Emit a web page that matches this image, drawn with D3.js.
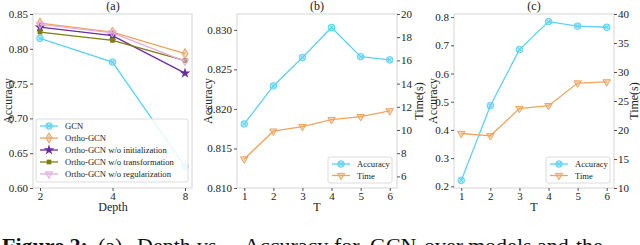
<!DOCTYPE html>
<html>
<head>
<meta charset="utf-8">
<script src="https://cdn.jsdelivr.net/npm/d3@7"></script>
<style>
  body { margin: 0; background: #fff; }
  svg { display: block; font-family: "Liberation Serif", "DejaVu Serif", serif; }
</style>
</head>
<body>
<div id="chart-area"></div>
<script>
// ---- data ----
var depths = ["2", "4", "8"]
var seriesA = ["GCN", "Ortho-GCN", "Ortho-GCN w/o initialization", "Ortho-GCN w/o transformation", "Ortho-GCN w/o regularization"]
var gcnAcc = [0.815, 0.781, 0.631]
var orthoAcc = [0.837, 0.824, 0.793]
var noInitAcc = [0.831, 0.819, 0.765]
var noTransAcc = [0.824, 0.812, 0.783]
var noRegAcc = [0.835, 0.823, 0.782]
var yTicksA = [0.60, 0.65, 0.70, 0.75, 0.80, 0.85]

var tValues = [1, 2, 3, 4, 5, 6]
var accB = [0.8181, 0.8229, 0.8265, 0.8303, 0.8266, 0.8262]
var timeB = [7.5, 9.9, 10.3, 10.9, 11.15, 11.65]
var yTicksB = [0.810, 0.815, 0.820, 0.825, 0.830]
var y2TicksB = [6, 8, 10, 12, 14, 16, 18, 20]

var accC = [0.221, 0.486, 0.685, 0.784, 0.768, 0.764]
var timeC = [19.4, 19.0, 23.7, 24.2, 28.1, 28.3]
var yTicksC = [0.2, 0.3, 0.4, 0.5, 0.6, 0.7, 0.8]
var y2TicksC = [10, 15, 20, 25, 30, 35, 40]

// caption words (only their top shows) and where each word starts
var captionWords = ["Figure 2:", "(a)", "Depth", "vs.", "Accuracy", "for", "GCN", "over", "models", "and", "the"]
var captionX = [2, 98, 137, 197, 244, 334, 370, 424, 468, 537, 576]

var colors = ["#5ad2f6", "#f0a35e", "#6a2c9e", "#7d7d12", "#e4acdc"]
var blue = "#5ad2f6", orange = "#f0a35e"
var spine = "#dcdcdc"
var txt = "#222"

var width = 640, height = 245
var plotTop = 14, plotBottom = 188

var svg = d3.select("#chart-area").append("svg")
    .attr("width", width)
    .attr("height", height)

function frame(x0, x1) {
    svg.append("rect")
        .attr("x", x0).attr("y", plotTop)
        .attr("width", x1 - x0).attr("height", plotBottom - plotTop)
        .style("fill", "none")
        .style("stroke", spine)
        .style("stroke-width", 1.2)
}

function styleAxis(g) {
    g.select(".domain").remove()
    g.selectAll("line").style("stroke", "#555")
    g.selectAll("text").style("font-family", "Liberation Serif").style("font-size", "11px").style("fill", txt)
}

function label(x, y, s, rot, size) {
    svg.append("text")
        .attr("transform", "translate(" + x + "," + y + ")" + (rot ? " rotate(-90)" : ""))
        .style("text-anchor", "middle")
        .style("font-size", (size || 12) + "px")
        .style("fill", txt)
        .text(s)
}

// marker drawing
function marker(g, x, y, kind, color) {
    if (kind == "circle") {
        g.append("circle").attr("cx", x).attr("cy", y).attr("r", 3.3)
            .style("fill", color).style("fill-opacity", 0.45).style("stroke", color).style("stroke-width", 1)
        g.append("path").attr("d", d3.symbol(d3.symbolTimes, 14)())
            .attr("transform", "translate(" + x + "," + y + ")")
            .style("stroke", color).style("stroke-width", 1).style("fill", "none")
    } else if (kind == "diamond") {
        g.append("path").attr("d", d3.symbol(d3.symbolDiamond, 30)())
            .attr("transform", "translate(" + x + "," + y + ")")
            .style("fill", color).style("fill-opacity", 0.5).style("stroke", color).style("stroke-width", 1)
        g.append("path").attr("d", d3.symbol(d3.symbolPlus, 12)())
            .attr("transform", "translate(" + x + "," + y + ")")
            .style("fill", color)
    } else if (kind == "pentagon") {
        g.append("path").attr("d", d3.symbol(d3.symbolStar, 13)())
            .attr("transform", "translate(" + x + "," + y + ")")
            .style("fill", color).style("stroke", color).style("stroke-width", 1.4)
    } else if (kind == "square") {
        g.append("path").attr("d", d3.symbol(d3.symbolSquare, 22)())
            .attr("transform", "translate(" + x + "," + y + ")")
            .style("fill", color)
    } else if (kind == "tridown") {
        g.append("path").attr("d", d3.symbol(d3.symbolTriangle, 24)())
            .attr("transform", "translate(" + x + "," + y + ") rotate(180)")
            .style("fill", color).style("fill-opacity", 0.45).style("stroke", color).style("stroke-width", 1)
    }
}

function series(xs, ys, xScale, yScale, color, kind) {
    var g = svg.append("g")
    var line = d3.line().x(function(d, i) { return xScale(xs[i]) }).y(function(d) { return yScale(d) })
    g.append("path").datum(ys).attr("d", line)
        .style("fill", "none").style("stroke", color).style("stroke-width", 1.3)
    ys.forEach(function(d, i) { marker(g, xScale(xs[i]), yScale(d), kind, color) })
}

function legend(x, y, w, h, names, cols, kinds, rowH) {
    svg.append("rect")
        .attr("x", x).attr("y", y).attr("width", w).attr("height", h)
        .attr("rx", 2)
        .style("fill", "#fff").style("fill-opacity", 0.85)
        .style("stroke", spine).style("stroke-width", 1)
    var g = svg.append("g")
    names.forEach(function(n, i) {
        var cy = y + 7 + i * rowH
        g.append("line").attr("x1", x + 4).attr("x2", x + 22).attr("y1", cy).attr("y2", cy)
            .style("stroke", cols[i]).style("stroke-width", 1.3)
        marker(g, x + 13, cy, kinds[i], cols[i])
        g.append("text").attr("x", x + 29).attr("y", cy + 3)
            .style("font-size", "8.6px").style("fill", txt).text(n)
    })
}

// ---- panel (a) ----
var xA = d3.scalePoint().domain(depths).range([40, 185])
var yA = d3.scaleLinear().domain([0.60, 0.85]).range([plotBottom, plotTop])
frame(33, 192)
svg.append("g").attr("transform", "translate(33,0)")
    .call(d3.axisLeft(yA).tickValues(yTicksA).tickFormat(d3.format(".2f")).tickSize(3).tickPadding(2))
    .call(styleAxis)
svg.append("g").attr("transform", "translate(0," + plotBottom + ")")
    .call(d3.axisBottom(xA).tickSize(3).tickPadding(1))
    .call(styleAxis)
var kindsA = ["circle", "diamond", "pentagon", "square", "tridown"]
var dataA = [gcnAcc, orthoAcc, noInitAcc, noTransAcc, noRegAcc]
dataA.forEach(function(d, i) { series(depths, d, xA, yA, colors[i], kindsA[i]) })
legend(36, 119, 152, 63, seriesA, colors, kindsA, 12)
label(113, 10, "(a)", false, 12)
label(113, 211, "Depth", false, 12)
label(12, 101, "Accuracy", true, 12)

// ---- panel (b) ----
var xB = d3.scaleLinear().domain([0.75, 6.25]).range([237, 397])
var yB = d3.scaleLinear().domain([0.810, 0.832]).range([plotBottom, plotTop])
var y2B = d3.scaleLinear().domain([5, 20]).range([plotBottom, plotTop])
frame(237, 397)
svg.append("g").attr("transform", "translate(237,0)")
    .call(d3.axisLeft(yB).tickValues(yTicksB).tickFormat(d3.format(".3f")).tickSize(3).tickPadding(2))
    .call(styleAxis)
svg.append("g").attr("transform", "translate(397,0)")
    .call(d3.axisRight(y2B).tickValues(y2TicksB).tickSize(3).tickPadding(1))
    .call(styleAxis)
svg.append("g").attr("transform", "translate(0," + plotBottom + ")")
    .call(d3.axisBottom(xB).tickValues(tValues).tickFormat(d3.format("d")).tickSize(3).tickPadding(1))
    .call(styleAxis)
series(tValues, accB, xB, yB, blue, "circle")
series(tValues, timeB, xB, y2B, orange, "tridown")
legend(328, 157, 64, 26, ["Accuracy", "Time"], [blue, orange], ["circle", "tridown"], 11.5)
label(317, 10, "(b)", false, 12)
label(317, 211, "T", false, 12)
label(212, 101, "Accuracy", true, 12)
label(423, 101, "Time(s)", true, 12)

// ---- panel (c) ----
var xC = d3.scaleLinear().domain([0.75, 6.25]).range([454, 614])
var yC = d3.scaleLinear().domain([0.194, 0.811]).range([plotBottom, plotTop])
var y2C = d3.scaleLinear().domain([10, 40]).range([plotBottom, plotTop])
frame(454, 614)
svg.append("g").attr("transform", "translate(454,0)")
    .call(d3.axisLeft(yC).tickValues(yTicksC).tickFormat(d3.format(".1f")).tickSize(3).tickPadding(2))
    .call(styleAxis)
svg.append("g").attr("transform", "translate(614,0)")
    .call(d3.axisRight(y2C).tickValues(y2TicksC).tickSize(3).tickPadding(1))
    .call(styleAxis)
svg.append("g").attr("transform", "translate(0," + plotBottom + ")")
    .call(d3.axisBottom(xC).tickValues(tValues).tickFormat(d3.format("d")).tickSize(3).tickPadding(1))
    .call(styleAxis)
series(tValues, accC, xC, yC, blue, "circle")
series(tValues, timeC, xC, y2C, orange, "tridown")
legend(546, 157, 64, 26, ["Accuracy", "Time"], [blue, orange], ["circle", "tridown"], 11.5)
label(534, 10, "(c)", false, 12)
label(534, 211, "T", false, 12)
label(437, 101, "Accuracy", true, 12)
label(638, 101, "Time(s)", true, 12)

// caption, cut off by the bottom edge
var cap = svg.append("text").attr("y", 253)
    .style("font-size", "22px").style("fill", "#111")
captionWords.forEach(function(w, i) {
    cap.append("tspan").attr("x", captionX[i])
        .style("font-weight", i == 0 ? "bold" : "normal")
        .text(w)
})
</script>
</body>
</html>
